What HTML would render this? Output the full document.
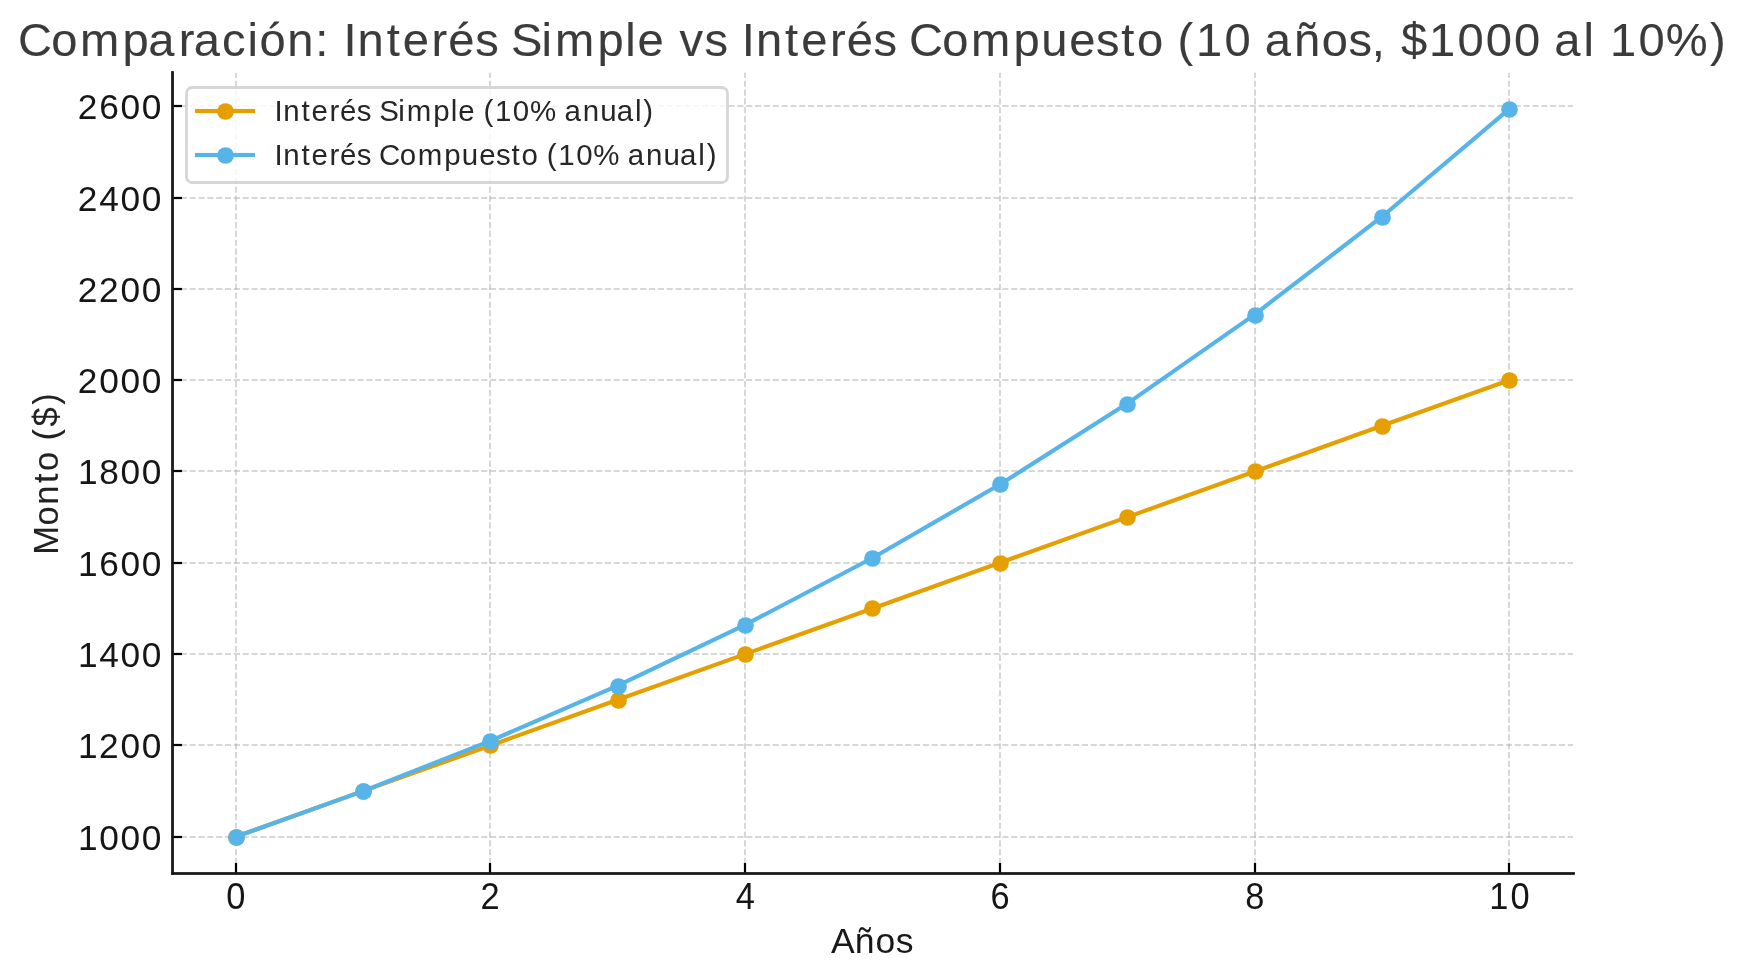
<!DOCTYPE html><html><head><meta charset="utf-8"><style>html,body{margin:0;padding:0;background:#fff;overflow:hidden}svg{display:block;will-change:transform}text{font-family:"Liberation Sans",sans-serif}</style></head><body>
<svg width="1744" height="980" viewBox="0 0 1744 980">
<rect width="1744" height="980" fill="#fff"/>
<path d="M236.00 873.04V72.66M490.00 873.04V72.66M745.00 873.04V72.66M1000.00 873.04V72.66M1255.00 873.04V72.66M1509.00 873.04V72.66" fill="none" stroke="#b0b0b0" stroke-opacity="0.61" stroke-width="1.667" stroke-dasharray="6.167 2.667"/>
<path d="M171.96 837.00H1572.98M171.96 745.00H1572.98M171.96 654.00H1572.98M171.96 563.00H1572.98M171.96 471.00H1572.98M171.96 380.00H1572.98M171.96 289.00H1572.98M171.96 198.00H1572.98M171.96 106.00H1572.98" fill="none" stroke="#b0b0b0" stroke-opacity="0.665" stroke-width="1.667" stroke-dasharray="6.167 2.667"/>
<rect x="234.889" y="863.000" width="2.222" height="10.500" fill="#000"/><rect x="488.889" y="863.000" width="2.222" height="10.500" fill="#000"/><rect x="743.889" y="863.000" width="2.222" height="10.500" fill="#000"/><rect x="998.889" y="863.000" width="2.222" height="10.500" fill="#000"/><rect x="1253.889" y="863.000" width="2.222" height="10.500" fill="#000"/><rect x="1507.889" y="863.000" width="2.222" height="10.500" fill="#000"/><rect x="172.500" y="835.889" width="9.500" height="2.222" fill="#000"/><rect x="172.500" y="743.889" width="9.500" height="2.222" fill="#000"/><rect x="172.500" y="652.889" width="9.500" height="2.222" fill="#000"/><rect x="172.500" y="561.889" width="9.500" height="2.222" fill="#000"/><rect x="172.500" y="469.889" width="9.500" height="2.222" fill="#000"/><rect x="172.500" y="378.889" width="9.500" height="2.222" fill="#000"/><rect x="172.500" y="287.889" width="9.500" height="2.222" fill="#000"/><rect x="172.500" y="196.889" width="9.500" height="2.222" fill="#000"/><rect x="172.500" y="104.889" width="9.500" height="2.222" fill="#000"/>
<polyline points="235.60,836.79 362.97,791.13 490.34,745.47 617.71,699.80 745.08,654.14 872.45,608.48 999.82,562.82 1127.19,517.16 1254.56,471.49 1381.93,425.83 1509.30,380.17" fill="none" stroke="#E69F00" stroke-width="4.167" stroke-linejoin="round" stroke-linecap="square"/>
<circle cx="236.50" cy="837.50" r="8.333" fill="#E69F00"/><circle cx="363.50" cy="791.50" r="8.333" fill="#E69F00"/><circle cx="490.50" cy="745.50" r="8.333" fill="#E69F00"/><circle cx="618.50" cy="700.50" r="8.333" fill="#E69F00"/><circle cx="745.50" cy="654.50" r="8.333" fill="#E69F00"/><circle cx="872.50" cy="608.50" r="8.333" fill="#E69F00"/><circle cx="1000.50" cy="563.50" r="8.333" fill="#E69F00"/><circle cx="1127.50" cy="517.50" r="8.333" fill="#E69F00"/><circle cx="1255.50" cy="471.50" r="8.333" fill="#E69F00"/><circle cx="1382.50" cy="426.50" r="8.333" fill="#E69F00"/><circle cx="1509.50" cy="380.50" r="8.333" fill="#E69F00"/>
<polyline points="235.60,836.79 362.97,791.13 490.34,740.90 617.71,685.65 745.08,624.87 872.45,558.02 999.82,484.48 1127.19,403.59 1254.56,314.60 1381.93,216.72 1509.30,109.06" fill="none" stroke="#56B4E9" stroke-width="4.167" stroke-linejoin="round" stroke-linecap="square"/>
<circle cx="236.50" cy="837.50" r="8.333" fill="#56B4E9"/><circle cx="363.50" cy="791.50" r="8.333" fill="#56B4E9"/><circle cx="490.50" cy="741.50" r="8.333" fill="#56B4E9"/><circle cx="618.50" cy="686.50" r="8.333" fill="#56B4E9"/><circle cx="745.50" cy="625.50" r="8.333" fill="#56B4E9"/><circle cx="872.50" cy="558.50" r="8.333" fill="#56B4E9"/><circle cx="1000.50" cy="484.50" r="8.333" fill="#56B4E9"/><circle cx="1127.50" cy="404.50" r="8.333" fill="#56B4E9"/><circle cx="1255.50" cy="315.50" r="8.333" fill="#56B4E9"/><circle cx="1382.50" cy="217.50" r="8.333" fill="#56B4E9"/><circle cx="1509.50" cy="109.50" r="8.333" fill="#56B4E9"/>
<rect x="171.111" y="71.111" width="2.778" height="803.778" fill="#1a1a1a"/><rect x="171.111" y="872.111" width="1403.778" height="2.778" fill="#1a1a1a"/>
<rect x="186.5" y="87.5" width="541.00" height="95.00" rx="5.56" ry="5.56" fill="#fff" fill-opacity="0.8" stroke="#cccccc" stroke-opacity="0.8" stroke-width="2.778"/>
<rect x="194.917" y="108.917" width="60.167" height="4.167" fill="#E69F00"/><circle cx="225.5" cy="111.50" r="8.333" fill="#E69F00"/>
<rect x="194.917" y="152.917" width="60.167" height="4.167" fill="#56B4E9"/><circle cx="225.5" cy="155.50" r="8.333" fill="#56B4E9"/>
<text x="17.47 49.94 78.07 119.47 144.60 174.40 189.00 216.62 241.49 253.09 280.18 307.54 321.72 335.01 348.84 377.27 392.91 421.03 437.42 463.56 486.55 498.49 528.28 541.49 582.88 610.07 621.85 648.38 663.00 687.43 710.42 723.70 737.54 765.96 781.61 809.73 826.12 852.26 875.24 886.82 919.29 947.42 988.81 1015.95 1043.21 1069.36 1093.84 1109.33 1135.87 1148.79 1166.83 1194.66 1221.75 1233.89 1262.56 1289.57 1315.72 1338.26 1352.48 1366.90 1394.11 1421.94 1449.53 1477.11 1504.20 1516.34 1544.97 1556.60 1570.65 1598.47 1625.22 1668.22" y="55.99" font-size="45.95" fill="#3b3b3b" stroke="#3b3b3b" stroke-width="0.100" transform="scale(1.0250 1)" >Comparación: Interés Simple vs Interés Compuesto (10 años, $1000 al 10%)</text>
<text x="830.91 854.85 875.62 895.72" y="953.01" font-size="35.50" fill="#181818" >Años</text>
<text x="-81.88 -52.53 -31.71 -9.97 2.06 22.35 32.32 46.54 68.28" y="-0.62" font-size="34.50" fill="#222222" stroke="#222222" stroke-width="0.050" transform="translate(58.83 472.93) rotate(-90)" >Monto ($)</text>
<text x="76.43 97.40 118.19 138.98" y="850.00" font-size="34.60" fill="#161616" transform="scale(1.0200 1)" >1000</text>
<text x="76.43 96.97 118.19 138.98" y="758.00" font-size="34.60" fill="#161616" transform="scale(1.0200 1)" >1200</text>
<text x="76.43 97.40 118.19 138.98" y="667.00" font-size="34.60" fill="#161616" transform="scale(1.0200 1)" >1400</text>
<text x="76.43 97.40 118.19 138.98" y="576.00" font-size="34.60" fill="#161616" transform="scale(1.0200 1)" >1600</text>
<text x="76.43 97.40 118.19 138.98" y="484.00" font-size="34.60" fill="#161616" transform="scale(1.0200 1)" >1800</text>
<text x="76.18 97.40 118.19 138.98" y="393.00" font-size="34.60" fill="#161616" transform="scale(1.0200 1)" >2000</text>
<text x="76.18 96.97 118.19 138.98" y="302.00" font-size="34.60" fill="#161616" transform="scale(1.0200 1)" >2200</text>
<text x="76.18 97.40 118.19 138.98" y="211.00" font-size="34.60" fill="#161616" transform="scale(1.0200 1)" >2400</text>
<text x="76.18 97.40 118.19 138.98" y="119.00" font-size="34.60" fill="#161616" transform="scale(1.0200 1)" >2600</text>
<text x="238.18" y="908.65" font-size="36.23" fill="#161616" transform="scale(0.9500 1)" >0</text>
<text x="505.87" y="908.65" font-size="36.23" fill="#161616" transform="scale(0.9500 1)" >2</text>
<text x="774.47" y="908.65" font-size="36.23" fill="#161616" transform="scale(0.9500 1)" >4</text>
<text x="1042.63" y="908.65" font-size="36.23" fill="#161616" transform="scale(0.9500 1)" >6</text>
<text x="1310.77" y="908.65" font-size="36.23" fill="#161616" transform="scale(0.9500 1)" >8</text>
<text x="1567.58 1590.08" y="908.65" font-size="36.23" fill="#161616" transform="scale(0.9500 1)" >10</text>
<text x="274.46 283.32 301.53 311.55 329.56 340.06 356.81 371.53 379.19 398.27 406.73 433.25 450.67 458.21 475.21 483.49 495.05 512.87 530.01 556.62 564.40 582.82 600.31 616.63 634.97 643.36" y="121.16" font-size="29.45" fill="#262626" >Interés Simple (10% anual)</text>
<text x="274.46 283.32 301.53 311.55 329.56 340.06 356.81 371.53 378.94 399.75 417.77 444.29 461.68 479.14 495.89 511.57 521.50 538.50 546.78 558.33 576.16 593.29 619.91 627.68 646.11 663.59 679.91 698.25 706.65" y="164.55" font-size="29.45" fill="#262626" >Interés Compuesto (10% anual)</text>
</svg></body></html>
